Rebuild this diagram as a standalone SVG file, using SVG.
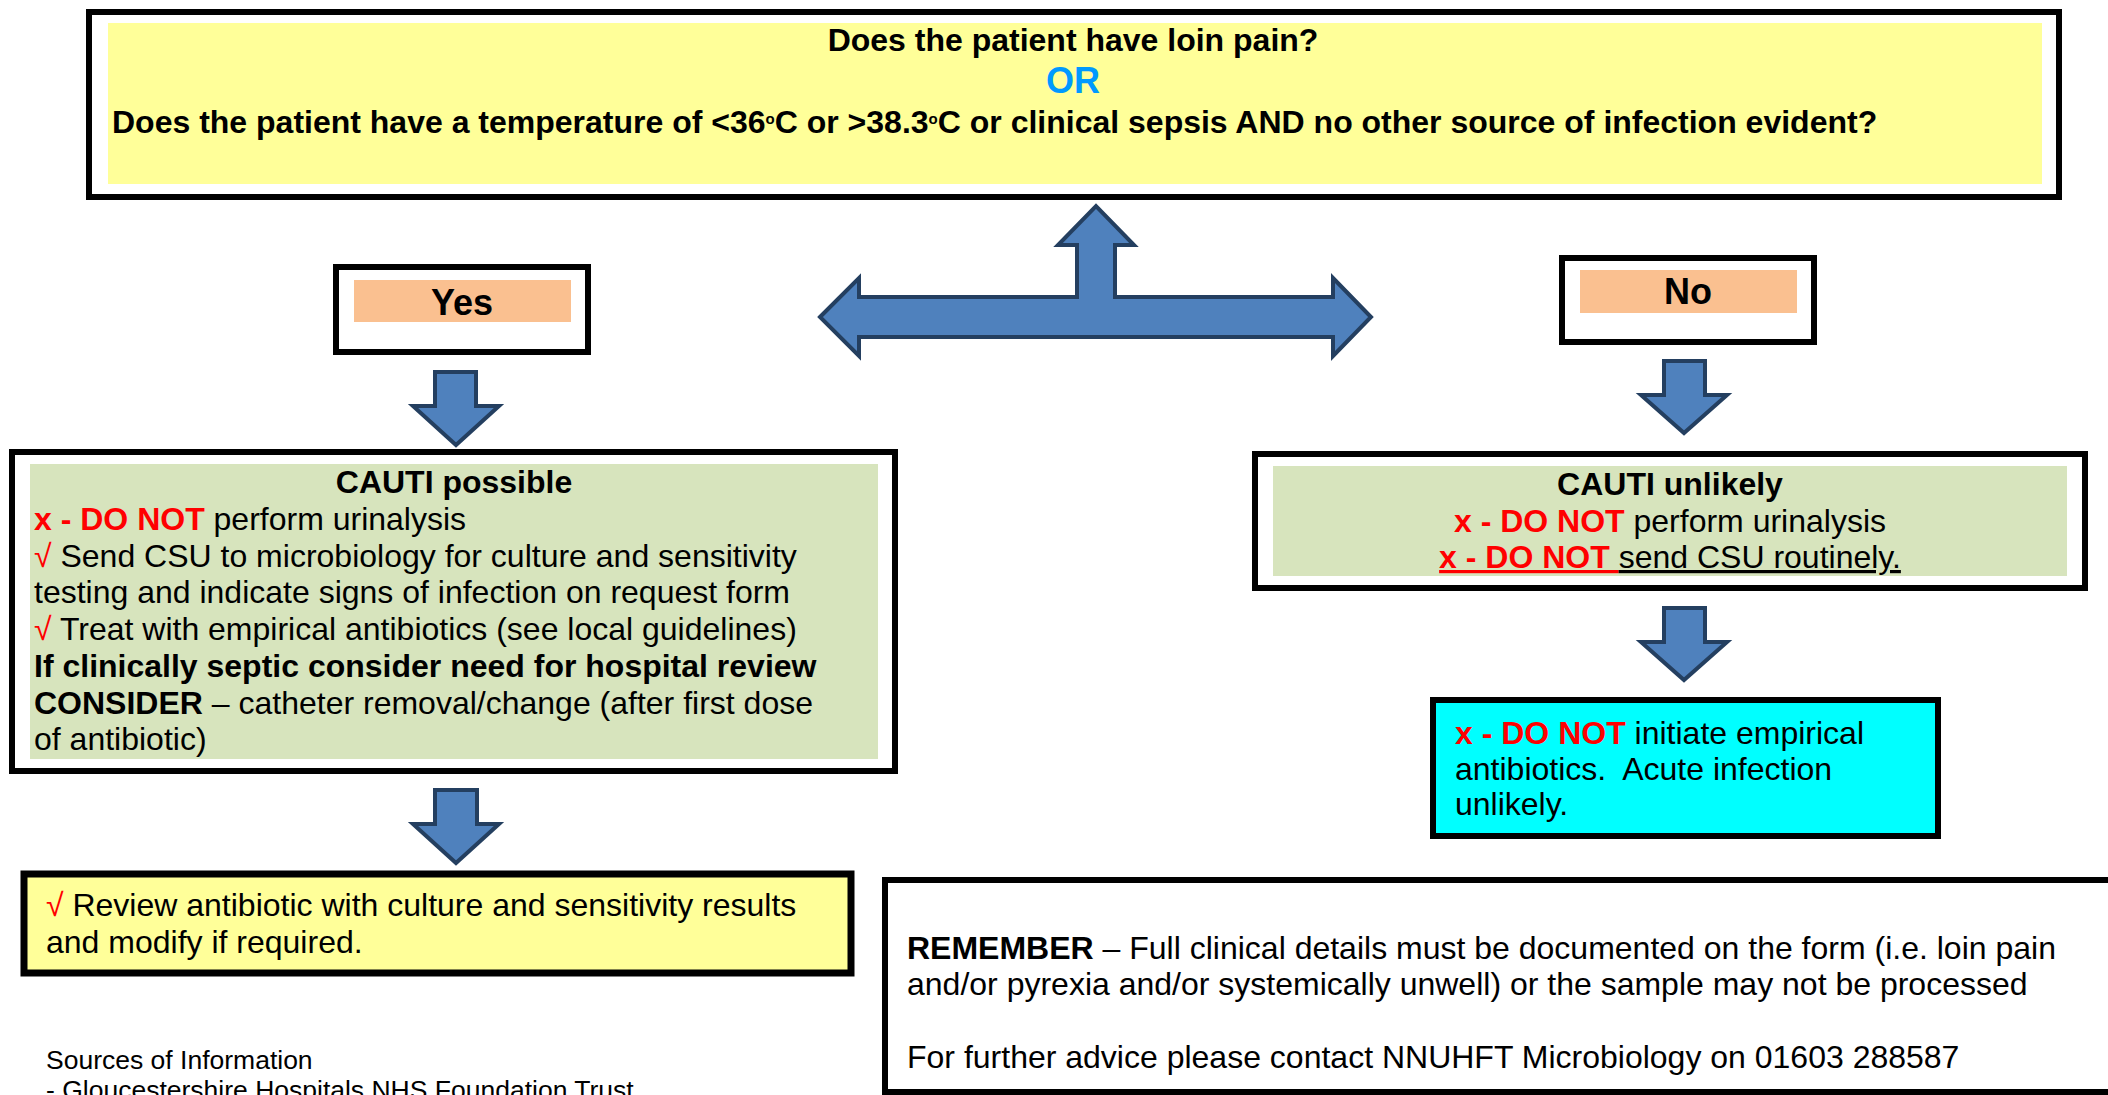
<svg xmlns="http://www.w3.org/2000/svg" width="2108" height="1095" viewBox="0 0 2108 1095">
<style>
text{font-family:"Liberation Sans",Arial,sans-serif;font-size:32px;fill:#000}
.b{font-weight:bold}
.red{fill:#FF0000}
.c{text-anchor:middle}
.frame{fill:#fff;stroke:#000;stroke-width:6}
.arrow{fill:#4F81BD;stroke:#243F60;stroke-width:4;stroke-linejoin:miter}
.green{fill:#D7E4BD}
.yellow{fill:#FFFF99}
.peach{fill:#FAC090}
.small{font-size:26.5px}
</style>
<rect width="2108" height="1095" fill="#fff"/>

<g id="question">
<rect class="frame" x="89" y="12" width="1970" height="185"/>
<rect class="yellow" x="108" y="23" width="1934" height="161"/>
<text class="b c" x="1073" y="51">Does the patient have loin pain?</text>
<text class="b c" x="1073" y="93" style="font-size:36px;fill:#0099FF">OR</text>
<text class="b" x="112" y="133">Does the patient have a temperature of &lt;36<tspan dy="-9" style="font-size:15px">o</tspan><tspan dy="9">C or &gt;38.3</tspan><tspan dy="-9" style="font-size:15px">o</tspan><tspan dy="9">C or clinical sepsis AND no other source of infection evident?</tspan></text>
</g>

<g id="yes">
<rect class="frame" x="336" y="267" width="252" height="85"/>
<rect class="peach" x="354" y="280" width="217" height="42"/>
<text class="b c" x="462" y="315" style="font-size:36px">Yes</text>
</g>

<g id="no">
<rect class="frame" x="1562" y="258" width="252" height="84"/>
<rect class="peach" x="1580" y="270" width="217" height="43"/>
<text class="b c" x="1688" y="304" style="font-size:36px">No</text>
</g>

<g id="cauti-possible">
<rect class="frame" x="12" y="452" width="883" height="319"/>
<rect class="green" x="30" y="464" width="848" height="295"/>
<text class="b c" x="454" y="493">CAUTI possible</text>
<text x="34" y="530"><tspan class="b red">x - DO NOT</tspan> perform urinalysis</text>
<text x="34" y="567"><tspan class="red">√</tspan> Send CSU to microbiology for culture and sensitivity</text>
<text x="34" y="603">testing and indicate signs of infection on request form</text>
<text x="34" y="640"><tspan class="red">√</tspan> Treat with empirical antibiotics (see local guidelines)</text>
<text class="b" x="34" y="677">If clinically septic consider need for hospital review</text>
<text x="34" y="714"><tspan class="b">CONSIDER</tspan> – catheter removal/change (after first dose</text>
<text x="34" y="750">of antibiotic)</text>
</g>

<g id="cauti-unlikely">
<rect class="frame" x="1255" y="454" width="830" height="134"/>
<rect class="green" x="1273" y="466" width="794" height="110"/>
<text class="b c" x="1670" y="495">CAUTI unlikely</text>
<text class="c" x="1670" y="532"><tspan class="b red">x - DO NOT</tspan> perform urinalysis</text>
<text class="c" x="1670" y="568"><tspan class="b red" text-decoration="underline">x - DO NOT </tspan><tspan text-decoration="underline">send CSU routinely.</tspan></text>
</g>

<g id="no-antibiotics">
<rect x="1433" y="700" width="505" height="136" fill="#00FFFF" stroke="#000" stroke-width="6"/>
<text x="1455" y="744"><tspan class="b red">x - DO NOT</tspan> initiate empirical</text>
<text x="1455" y="780" xml:space="preserve">antibiotics.  Acute infection</text>
<text x="1455" y="815">unlikely.</text>
</g>

<g id="review">
<rect x="24" y="874" width="827" height="99" fill="#FFFF99" stroke="#000" stroke-width="7"/>
<text x="46" y="916"><tspan class="red">√</tspan> Review antibiotic with culture and sensitivity results</text>
<text x="46" y="953">and modify if required.</text>
</g>

<g id="remember">
<rect class="frame" x="885" y="880" width="1240" height="212"/>
<text x="907" y="959"><tspan class="b">REMEMBER</tspan> – Full clinical details must be documented on the form (i.e. loin pain</text>
<text x="907" y="995">and/or pyrexia and/or systemically unwell) or the sample may not be processed</text>
<text x="907" y="1068">For further advice please contact NNUHFT Microbiology on 01603 288587</text>
</g>

<g id="sources">
<text class="small" x="46" y="1069">Sources of Information</text>
<text class="small" x="46" y="1099">- Gloucestershire Hospitals NHS Foundation Trust</text>
</g>

<g id="connectors">
<path class="arrow" d="M820,317 L859,278 L859,297 L1077,297 L1077,245 L1058,245 L1096,206 L1134,245 L1115,245 L1115,297 L1333,297 L1333,278 L1371,317 L1333,356 L1333,337 L859,337 L859,356 Z"/>
<path class="arrow" d="M435,372 L476,372 L476,406 L499,406 L456,445 L413,406 L435,406 Z"/>
<path class="arrow" d="M1664,361 L1705,361 L1705,395 L1727,395 L1684,433 L1641,395 L1664,395 Z"/>
<path class="arrow" d="M1664,608 L1705,608 L1705,642 L1727,642 L1684,680 L1641,642 L1664,642 Z"/>
<path class="arrow" d="M435,790 L477,790 L477,824 L499,824 L456,863 L413,824 L435,824 Z"/>
</g>
</svg>
